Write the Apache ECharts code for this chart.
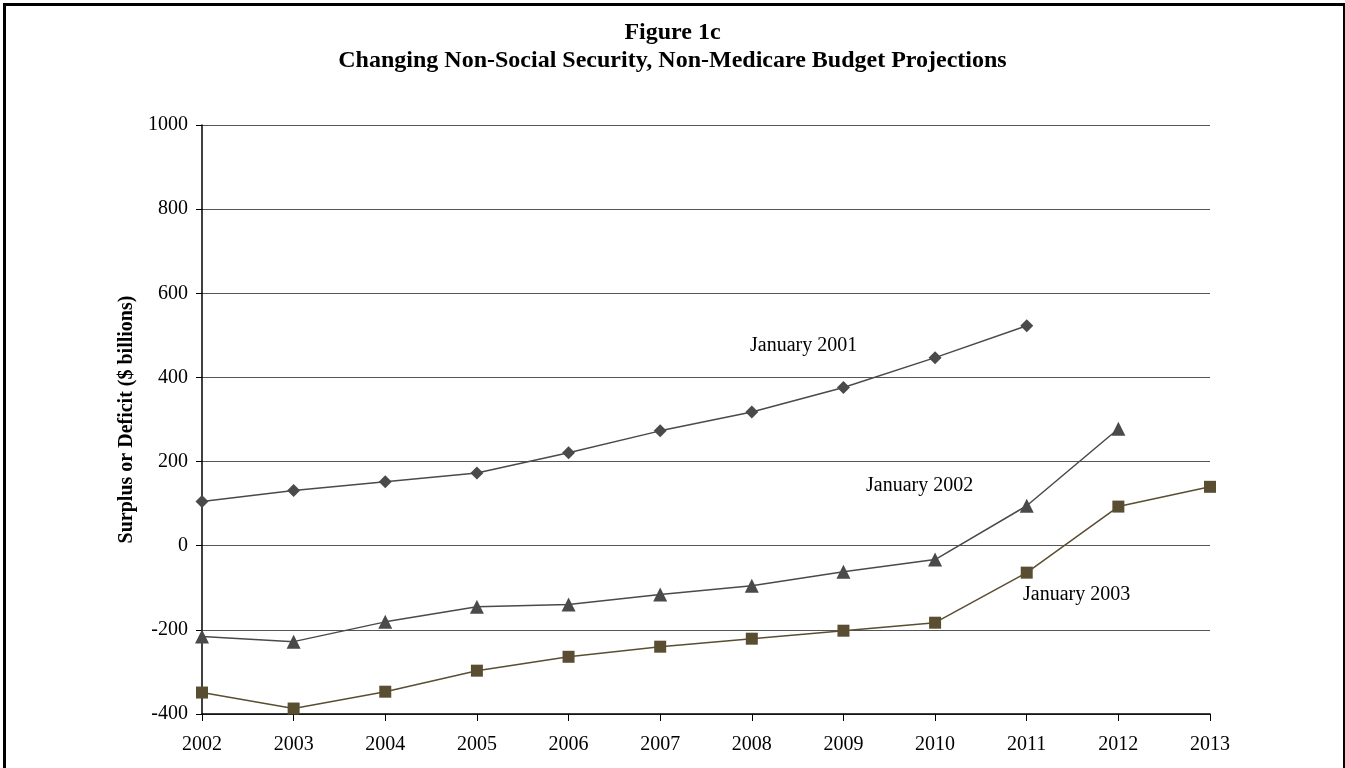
<!DOCTYPE html>
<html lang="en">
<head>
	<meta charset="UTF-8">
	<title>Figure 1c</title>
	<style>
		html, body { margin: 0; padding: 0; background: #fff; }
		#chart { width: 1345px; height: 768px; }
	</style>
</head>
<body>
	<div id="chart"></div>
	<script src="https://cdn.jsdelivr.net/npm/echarts@6/dist/echarts.min.js"></script>
	<script>
		// data
		var years = ['2002', '2003', '2004', '2005', '2006', '2007', '2008', '2009', '2010', '2011', '2012', '2013'];
		var jan2001 = [105, 131, 152, 173, 221, 273, 318, 376, 447, 523, null, null];
		var jan2002 = [-216, -228, -181, -145, -140, -116, -95, -62, -33, 95, 278, null];
		var jan2003 = [-349, -387, -347, -297, -264, -240, -221, -202, -183, -64, 93, 140];

		var serif = '"Liberation Serif", "Times New Roman", serif';
		var gray = '#4a4a4a';
		var olive = '#5a4e32';

		var chart = echarts.init(document.getElementById('chart'));
		chart.setOption({
			animation: false,
			backgroundColor: '#fff',
			title: {
				text: 'Figure 1c\nChanging Non-Social Security, Non-Medicare Budget Projections',
				left: 'center',
				top: 14,
				textStyle: { fontFamily: serif, fontSize: 24, fontWeight: 'bold', color: '#000', lineHeight: 28 }
			},
			grid: { left: 202, right: 135, top: 125, bottom: 54 },
			xAxis: {
				type: 'category',
				data: years,
				boundaryGap: false,
				axisLine: { onZero: false, lineStyle: { color: '#000', width: 1.5 } },
				axisTick: { alignWithLabel: true, length: 7, lineStyle: { color: '#000' } },
				axisLabel: { fontFamily: serif, fontSize: 20, color: '#000', margin: 21 }
			},
			yAxis: {
				type: 'value',
				min: -400, max: 1000, interval: 200,
				name: 'Surplus or Deficit ($ billions)',
				nameLocation: 'middle',
				nameGap: 64,
				nameTextStyle: { fontFamily: serif, fontSize: 20, fontWeight: 'bold', color: '#000' },
				axisLine: { show: true, lineStyle: { color: '#000', width: 1.5 } },
				axisTick: { show: true, length: 6, lineStyle: { color: '#000' } },
				axisLabel: { fontFamily: serif, fontSize: 20, color: '#000', margin: 14, formatter: function (v) { return String(v); } },
				splitLine: { lineStyle: { color: '#555', width: 1 } }
			},
			series: [
				{
					name: 'January 2001', type: 'line', data: jan2001,
					symbol: 'diamond', symbolSize: 13,
					lineStyle: { color: gray, width: 1.5 }, itemStyle: { color: gray }
				},
				{
					name: 'January 2002', type: 'line', data: jan2002,
					symbol: 'triangle', symbolSize: 14,
					lineStyle: { color: gray, width: 1.5 }, itemStyle: { color: gray }
				},
				{
					name: 'January 2003', type: 'line', data: jan2003,
					symbol: 'rect', symbolSize: 12,
					lineStyle: { color: olive, width: 1.5 }, itemStyle: { color: olive }
				}
			],
			graphic: [
				{ type: 'rect', left: 2, top: 2, shape: { width: 1340, height: 770 }, style: { fill: 'none', stroke: '#000', lineWidth: 3 }, silent: true },
				{ type: 'text', left: 750, top: 336, style: { text: 'January 2001', font: '20px ' + serif, fill: '#000' } },
				{ type: 'text', left: 866, top: 476, style: { text: 'January 2002', font: '20px ' + serif, fill: '#000' } },
				{ type: 'text', left: 1023, top: 585, style: { text: 'January 2003', font: '20px ' + serif, fill: '#000' } }
			]
		});
	</script>
</body>
</html>
